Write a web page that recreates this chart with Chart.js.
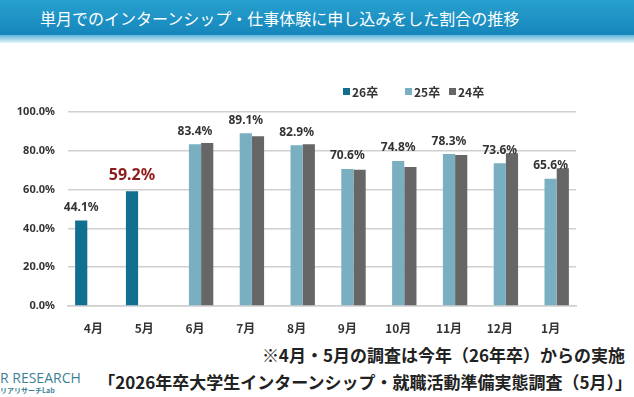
<!DOCTYPE html>
<html>
<head>
<meta charset="utf-8">
<script src="https://cdn.jsdelivr.net/npm/chart.js@4/dist/chart.umd.min.js"></script>
<style>
  body { margin: 0; width: 634px; height: 397px; overflow: hidden; background: #fff; font-family: "Noto Sans CJK JP", sans-serif; position: relative; }
  .head { position: absolute; left: 0; top: 0; width: 634px; height: 35px; background: linear-gradient(#28a0d0, #1686ba); }
  .band { position: absolute; left: 0; top: 35px; width: 634px; height: 8px; background: linear-gradient(#5fb6da, #e4f4fa); }
  .head span { position: absolute; left: 40px; top: 6px; color: #fff; font-size: 16px; white-space: nowrap; }
  .wrap { position: absolute; left: 0; top: 50px; width: 634px; height: 290px; }
  .note { position: absolute; right: 9px; top: 342px; font-size: 17px; font-weight: bold; color: #222; white-space: nowrap; }
  .src { position: absolute; right: 2px; top: 369px; font-size: 17px; font-weight: bold; color: #222; white-space: nowrap; }
  .logo { position: absolute; left: 0; top: 368px; font-family: "Open Sans", sans-serif; font-size: 14px; color: #3d7f95; white-space: nowrap; }
  .logo small { display: block; font-size: 7px; font-family: "Noto Sans CJK JP"; font-weight: bold; margin-top: -2px; }
</style>
</head>
<body>
<div class="head"><span>単月でのインターンシップ・仕事体験に申し込みをした割合の推移</span></div>
<div class="band"></div>
<div class="wrap"><canvas id="rate"></canvas></div>
<div class="note">※4月・5月の調査は今年（26年卒）からの実施</div>
<div class="src">「2026年卒大学生インターンシップ・就職活動準備実態調査（5月）」</div>
<div class="logo">R RESEARCH<small>リアリサーチLab</small></div>
<script>
const months = ['4月', '5月', '6月', '7月', '8月', '9月', '10月', '11月', '12月', '1月'];
const grad26 = [44.1, 59.2, null, null, null, null, null, null, null, null];
const grad25 = [null, null, 83.4, 89.1, 82.9, 70.6, 74.8, 78.3, 73.6, 65.6];
const grad24 = [null, null, 84.0, 87.5, 83.4, 70.2, 71.7, 77.8, 78.7, 71.0];
const yTicks = [0, 20, 40, 60, 80, 100];

// value labels on 26卒 and 25卒 bars
const barLabels = {
    id: 'barLabels',
    afterDatasetsDraw(chart) {
        const ctx = chart.ctx;
        ctx.save();
        ctx.textAlign = 'center';
        ctx.textBaseline = 'bottom';
        [0, 1].forEach(i => {
            const meta = chart.getDatasetMeta(i);
            chart.data.datasets[i].data.forEach((v, j) => {
                if (v == null) return;
                const el = meta.data[j];
                if (i === 0 && j === 1) {
                    ctx.font = 'bold 16px "Noto Sans", sans-serif';
                    ctx.fillStyle = '#8e1b1b';
                    ctx.fillText(v.toFixed(1) + '%', el.x, el.y - 8);
                } else {
                    ctx.font = 'bold 12px "Noto Sans", sans-serif';
                    ctx.fillStyle = '#333';
                    ctx.fillText(v.toFixed(1) + '%', el.x, el.y - 7);
                }
            });
        });
        ctx.restore();
    }
};

// legend above the plot, right of centre
const topLegend = {
    id: 'topLegend',
    afterDraw(chart) {
        const ctx = chart.ctx;
        const xs = [343, 405, 449];
        const y = 42;
        ctx.save();
        ctx.font = 'bold 12px "Noto Sans CJK JP", sans-serif';
        ctx.textBaseline = 'middle';
        chart.data.datasets.forEach((ds, i) => {
            ctx.fillStyle = ds.backgroundColor;
            ctx.fillRect(xs[i], y - 4, 7, 7);
            ctx.fillStyle = '#333';
            ctx.fillText(ds.label, xs[i] + 9, y);
        });
        ctx.restore();
    }
};

new Chart(document.getElementById('rate'), {
    type: 'bar',
    data: {
        labels: months,
        datasets: [
            { label: '26卒', data: grad26, backgroundColor: '#126f90' },
            { label: '25卒', data: grad25, backgroundColor: '#79afc1' },
            { label: '24卒', data: grad24, backgroundColor: '#666666' }
        ]
    },
    options: {
        responsive: true,
        maintainAspectRatio: false,
        animation: false,
        layout: { padding: { top: 62, right: 58, left: 0, bottom: 0 } },
        datasets: { bar: { categoryPercentage: 0.72, barPercentage: 1.0 } },
        plugins: {
            legend: { display: false },
            tooltip: { enabled: false }
        },
        scales: {
            x: {
                grid: { display: false },
                border: { color: '#d0d0d0', width: 1.5 },
                ticks: { color: '#333', padding: 7, font: { size: 12, weight: 'bold', family: '"Noto Sans CJK JP"' } },
                afterFit: s => { s.height = 34; }
            },
            y: {
                min: 0,
                max: 100,
                afterBuildTicks: s => { s.ticks = yTicks.map(v => ({ value: v })); },
                grid: { color: '#d0d0d0', lineWidth: 1.5, drawTicks: false },
                border: { display: false },
                ticks: {
                    color: '#333',
                    padding: 13,
                    font: { size: 11, weight: 'bold', family: '"Noto Sans"' },
                    callback: v => v.toFixed(1) + '%'
                },
                afterFit: s => { s.width = 68; }
            }
        }
    },
    plugins: [barLabels, topLegend]
});
</script>
</body>
</html>
